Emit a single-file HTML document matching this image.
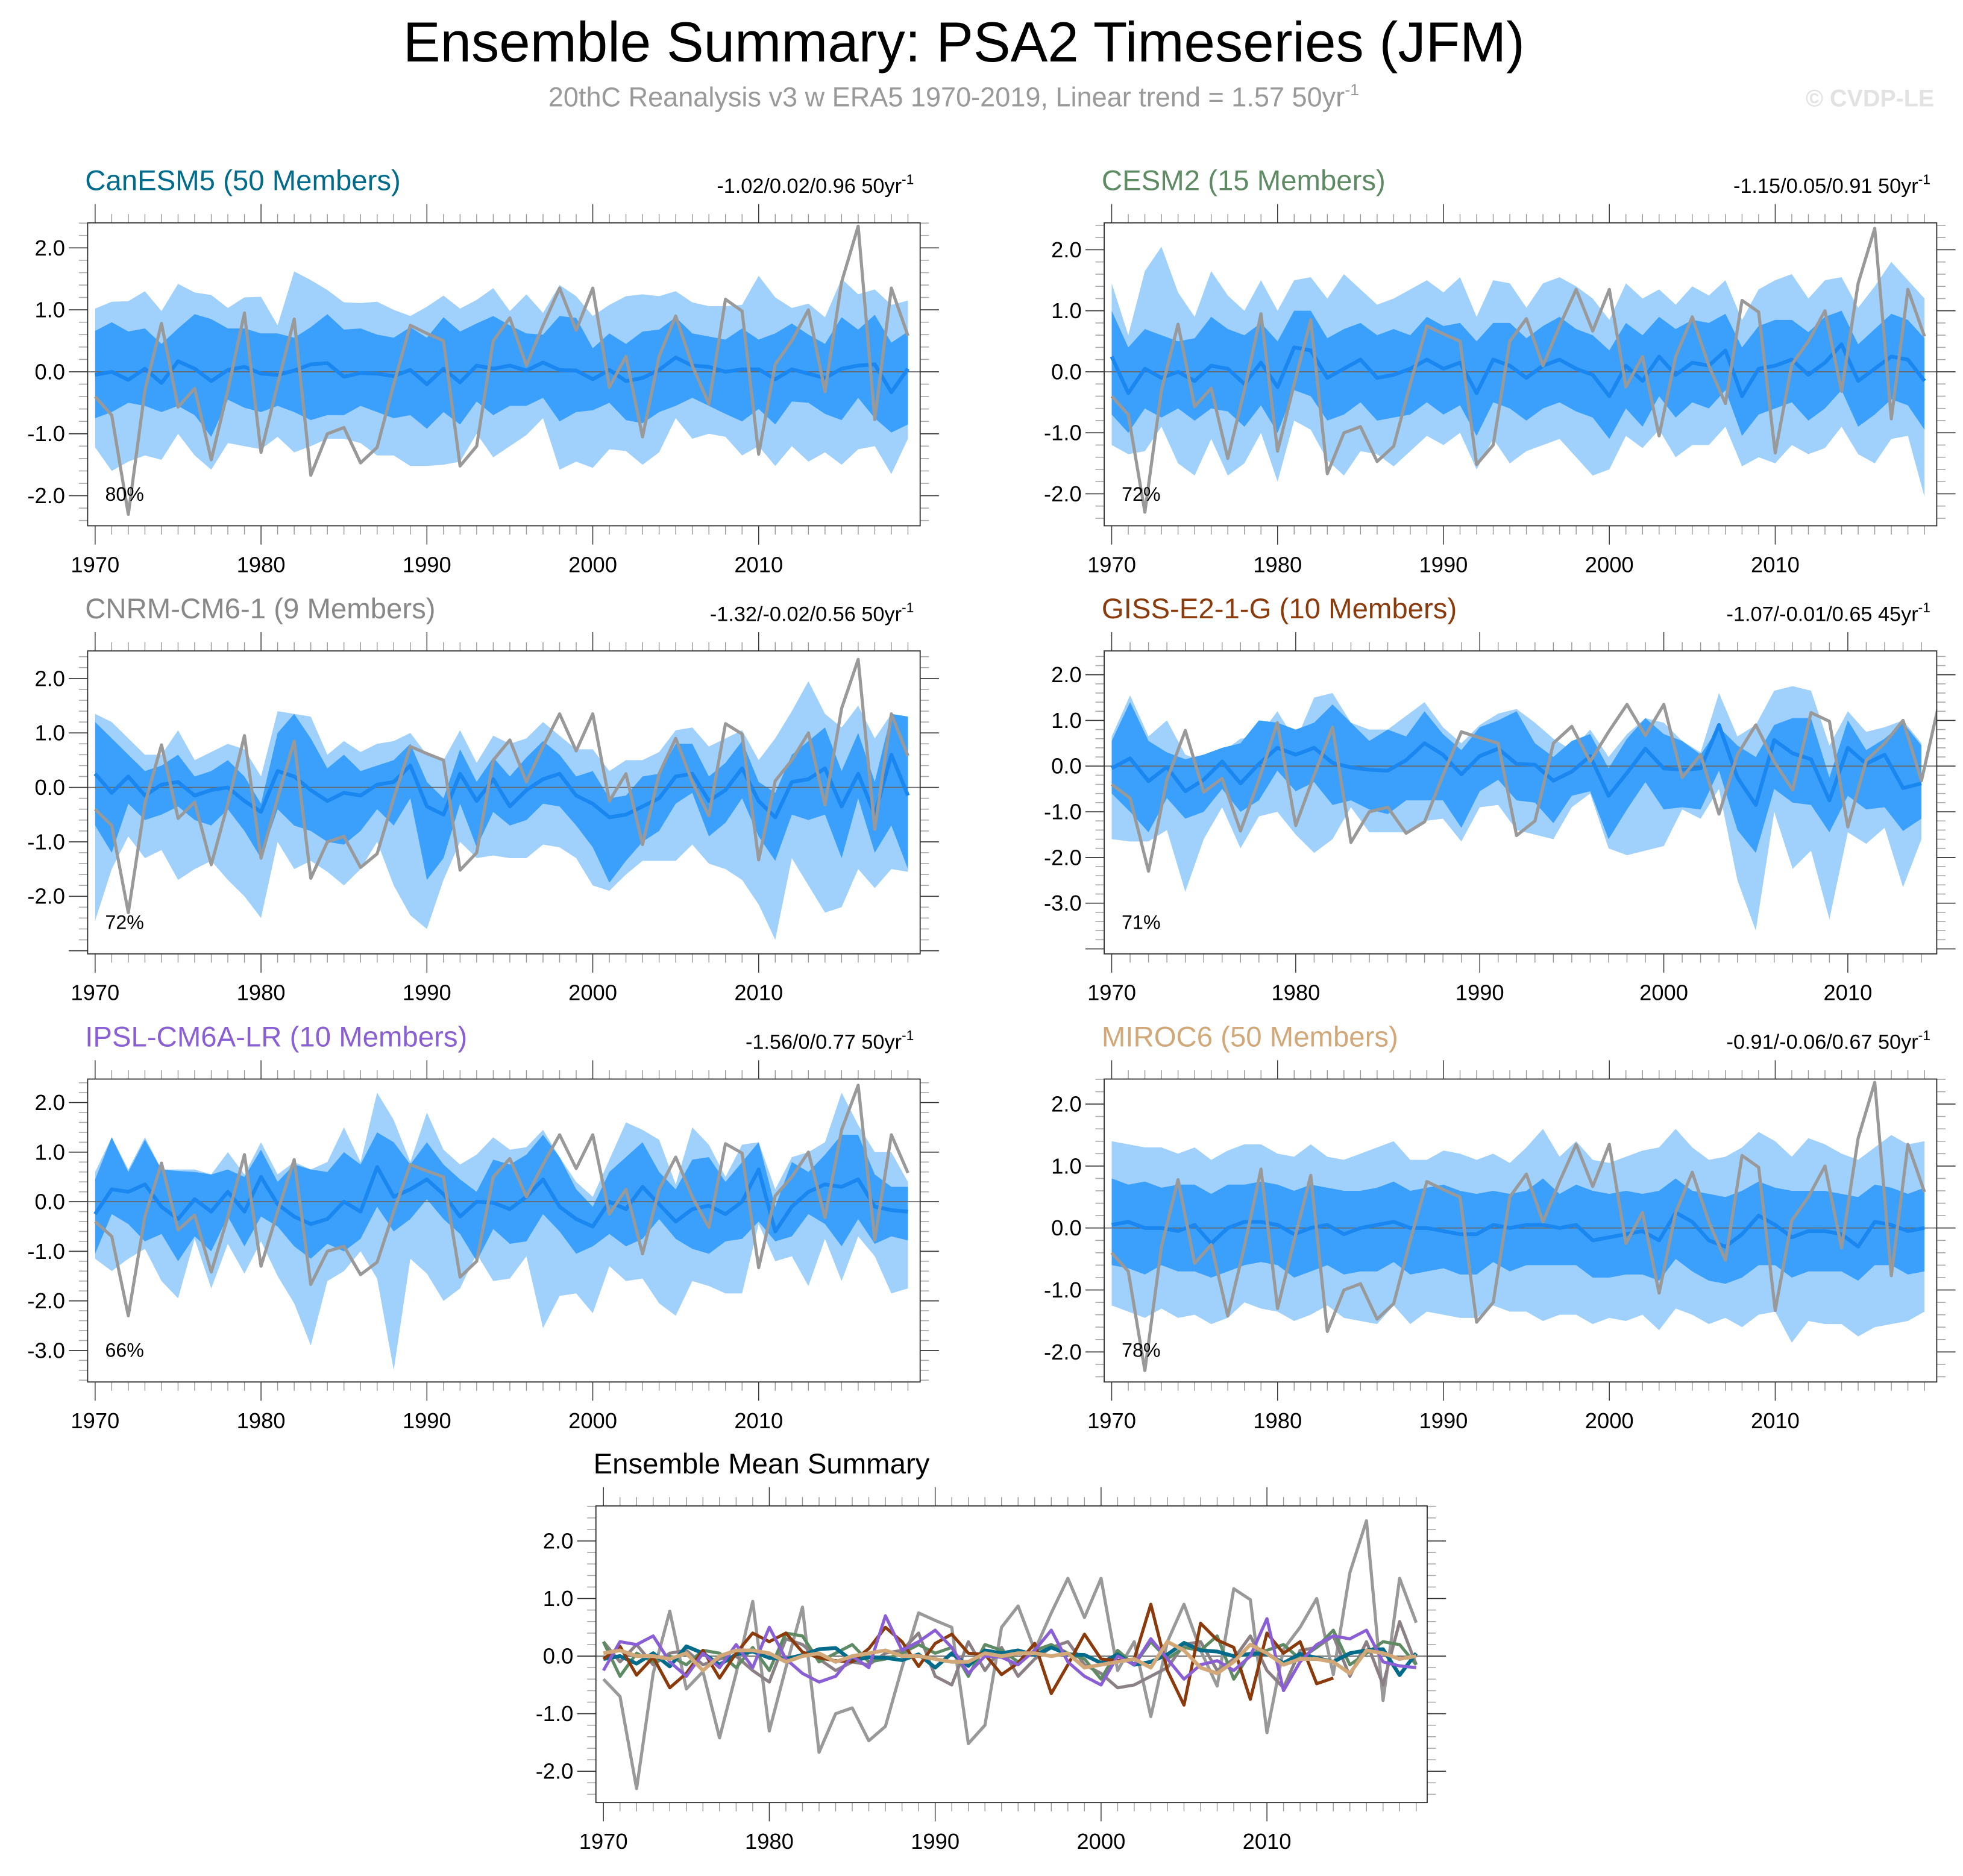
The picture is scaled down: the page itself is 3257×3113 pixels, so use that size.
<!DOCTYPE html>
<html><head><meta charset="utf-8"><style>
html,body{margin:0;padding:0;background:#fff;}
svg{display:block;font-family:"Liberation Sans",sans-serif;}
</style></head><body>
<svg id="fig" width="3257" height="3113" viewBox="0 0 1568 1498.65" xmlns="http://www.w3.org/2000/svg">
<text x="770" y="49" font-size="45" text-anchor="middle" textLength="896" lengthAdjust="spacingAndGlyphs">Ensemble Summary: PSA2 Timeseries (JFM)</text>
<text x="438" y="85" font-size="21.7" fill="#999">20thC Reanalysis v3 w ERA5 1970-2019, Linear trend = 1.57 50yr<tspan font-size="13" dy="-9">-1</tspan></text>
<text x="1545" y="85" font-size="19" font-weight="bold" fill="#e2e2e2" text-anchor="end">© CVDP-LE</text>
<g id="panels"></g>
</svg>
<script>
const years = [];
for (let y = 1970; y <= 2019; y++) years.push(y);
const obs = [-0.4,-0.7,-2.3,-0.3,0.78,-0.57,-0.27,-1.42,-0.3,0.95,-1.3,-0.2,0.85,-1.67,-1.0,-0.9,-1.47,-1.22,-0.2,0.75,0.62,0.5,-1.52,-1.2,0.5,0.87,0.1,0.75,1.35,0.67,1.35,-0.25,0.25,-1.05,0.25,0.9,0.1,-0.52,1.17,0.98,-1.33,0.12,0.5,1.0,-0.32,1.45,2.35,-0.77,1.35,0.58];

const canMean = [-0.05,0,-0.13,0.05,-0.18,0.17,0.05,-0.15,0.03,0.08,-0.03,-0.05,0.02,0.12,0.14,-0.08,-0.02,-0.03,-0.07,0.03,-0.2,0.05,-0.17,0.1,0.05,0.1,0.02,0.15,0.03,0.02,-0.12,0.03,-0.15,-0.1,0.03,0.23,0.1,0.08,0.0,0.04,0.04,-0.12,0.04,-0.03,-0.1,0.05,0.1,0.12,-0.33,0.05];
const canInHi = [0.66,0.8,0.65,0.7,0.45,0.7,0.93,0.85,0.7,0.7,0.62,0.62,0.55,0.72,0.93,0.68,0.7,0.6,0.55,0.72,0.55,0.88,0.65,0.78,0.9,0.75,0.62,0.6,0.9,0.87,0.38,0.62,0.45,0.65,0.68,0.88,0.62,0.57,0.52,0.7,0.52,0.62,0.78,0.6,0.45,0.88,0.68,0.92,0.47,0.65];
const canInLo = [-0.75,-0.65,-0.5,-0.55,-0.65,-0.55,-0.7,-1.05,-0.45,-0.58,-0.65,-0.55,-0.65,-0.78,-0.7,-0.7,-0.55,-0.65,-0.75,-0.7,-0.92,-0.65,-0.85,-0.48,-0.7,-0.55,-0.55,-0.42,-0.8,-0.65,-0.62,-0.5,-0.78,-0.83,-0.65,-0.55,-0.42,-0.55,-0.68,-0.8,-0.6,-0.85,-0.48,-0.5,-0.68,-0.78,-0.42,-0.75,-0.98,-0.85];
const canOutHi = [1.02,1.13,1.14,1.3,0.98,1.42,1.28,1.24,1.03,1.2,1.21,0.75,1.62,1.48,1.32,1.12,1.11,1.13,1.0,0.9,1.05,1.23,1.02,1.16,1.35,0.98,1.25,0.95,1.4,1.22,0.9,1.08,1.22,1.25,1.22,1.3,1.12,1.06,1.06,1.08,1.55,1.2,1.03,1.1,0.88,1.5,1.25,1.33,1.08,1.15];
const canOutLo = [-1.22,-1.6,-1.45,-1.35,-1.42,-1.0,-1.35,-1.58,-1.15,-1.2,-1.25,-1.05,-1.3,-1.2,-1.08,-1.08,-1.15,-1.35,-1.35,-1.52,-1.52,-1.5,-1.45,-1.0,-1.38,-1.2,-1.02,-0.75,-1.58,-1.45,-1.55,-1.25,-1.28,-1.5,-1.3,-0.75,-1.08,-1.0,-1.05,-1.35,-1.2,-1.52,-1.2,-1.45,-1.3,-1.5,-1.25,-1.2,-1.65,-1.08];

const cesMean = [0.25,-0.35,0.05,-0.1,0.0,-0.15,0.1,0.05,-0.2,0.15,-0.25,0.4,0.35,-0.1,0.05,0.2,-0.1,-0.05,0.05,0.2,0.05,0.15,-0.35,0.2,0.1,-0.1,0.1,0.2,0.05,-0.05,-0.4,0.1,-0.15,0.25,-0.05,0.15,0.1,0.35,-0.4,0.05,0.1,0.2,-0.05,0.15,0.45,-0.15,0.05,0.25,0.2,-0.15];
const cesInHi = [1.0,0.4,0.7,0.6,0.5,0.55,0.9,0.7,0.6,0.8,0.5,1.0,1.0,0.55,0.7,0.8,0.6,0.7,0.6,0.9,0.75,0.8,0.5,0.8,0.8,0.55,0.75,0.9,0.7,0.6,0.35,0.8,0.6,0.9,0.7,0.85,0.8,0.95,0.4,0.75,0.85,0.85,0.65,0.9,1.0,0.45,0.7,0.95,0.85,0.55];
const cesInLo = [-0.7,-1.0,-0.6,-0.75,-0.6,-0.8,-0.6,-0.65,-0.9,-0.55,-1.0,-0.3,-0.4,-0.8,-0.7,-0.5,-0.8,-0.75,-0.7,-0.5,-0.7,-0.55,-1.05,-0.5,-0.6,-0.8,-0.6,-0.5,-0.65,-0.75,-1.1,-0.6,-0.9,-0.4,-0.75,-0.5,-0.6,-0.3,-1.05,-0.7,-0.6,-0.5,-0.8,-0.6,-0.3,-0.9,-0.7,-0.45,-0.55,-0.95];
const cesOutHi = [1.45,0.6,1.65,2.05,1.3,0.9,1.65,1.25,1.0,1.5,1.0,1.5,1.55,1.2,1.6,1.35,1.1,1.2,1.35,1.5,1.3,1.55,0.9,1.5,1.45,1.05,1.45,1.55,1.4,1.2,0.85,1.45,1.2,1.35,1.1,1.4,1.25,1.5,0.85,1.35,1.5,1.6,1.2,1.5,1.55,1.05,1.4,1.8,1.5,1.2];
const cesOutLo = [-1.2,-1.35,-1.3,-0.9,-1.5,-1.7,-1.1,-1.7,-1.5,-1.0,-1.8,-0.8,-0.95,-1.45,-1.7,-1.3,-1.35,-1.55,-1.3,-1.05,-1.2,-1.0,-1.6,-1.1,-1.5,-1.3,-1.2,-1.1,-1.4,-1.7,-1.6,-1.05,-1.25,-0.95,-1.4,-1.2,-1.2,-0.9,-1.55,-1.4,-1.5,-1.2,-1.35,-1.25,-0.9,-1.35,-1.5,-1.1,-1.05,-2.05];

const cnrMean = [0.25,-0.1,0.2,-0.15,0.05,0.1,-0.15,-0.05,0.0,-0.25,-0.45,0.3,0.2,-0.05,-0.25,-0.1,-0.15,0.05,0.1,0.4,-0.35,-0.5,0.25,-0.25,0.15,-0.35,-0.05,0.15,0.25,-0.15,-0.3,-0.55,-0.5,-0.35,-0.2,0.2,0.25,-0.25,-0.05,0.35,-0.25,-0.55,0.1,0.15,0.35,-0.35,0.25,-0.5,0.6,-0.15];
const cnrInHi = [1.2,0.9,0.6,0.3,0.4,0.6,0.2,0.3,0.5,0.2,-0.3,1.0,1.35,0.9,0.35,0.6,0.3,0.4,0.5,0.8,0.1,-0.2,0.7,0.1,0.55,0.2,0.55,0.85,0.6,0.2,0.3,-0.2,-0.15,0.2,0.25,0.8,0.8,0.2,0.45,0.85,0.1,-0.1,0.6,0.85,1.1,0.3,1.0,0.1,1.35,1.3];
const cnrInLo = [-0.7,-1.2,-0.3,-0.6,-0.5,-0.35,-0.6,-0.7,-0.4,-0.8,-1.3,-0.4,-0.7,-0.8,-1.0,-1.05,-0.8,-0.4,-0.7,-0.2,-1.7,-1.3,-0.3,-1.1,-0.45,-0.7,-0.6,-0.3,-0.35,-0.7,-1.1,-1.75,-1.35,-1.0,-0.8,-0.3,-0.1,-0.9,-0.65,-0.2,-0.9,-1.35,-0.5,-0.6,-0.5,-1.3,-0.2,-1.2,-0.7,-1.5];
const cnrOutHi = [1.35,1.2,0.9,0.6,0.6,1.05,0.5,0.65,0.8,0.7,0.2,1.4,1.35,1.3,0.6,0.85,0.65,0.8,0.85,1.0,0.6,0.5,1.05,0.45,0.95,0.8,0.9,1.2,0.95,0.7,0.7,0.3,0.5,0.5,0.65,1.05,1.1,0.75,0.9,1.05,0.5,0.9,1.4,1.95,1.35,1.1,1.5,0.9,1.35,1.3];
const cnrOutLo = [-2.45,-1.5,-0.9,-1.3,-1.15,-1.7,-1.5,-1.35,-1.7,-2.0,-2.4,-1.0,-1.5,-1.35,-1.55,-1.8,-1.5,-1.0,-1.8,-2.35,-2.6,-1.7,-1.0,-1.3,-1.25,-1.3,-1.3,-1.05,-1.1,-1.3,-1.8,-1.9,-1.6,-1.35,-1.35,-1.35,-1.05,-1.4,-1.5,-1.7,-2.15,-2.8,-1.3,-1.8,-2.3,-2.2,-1.5,-1.85,-1.5,-1.55];

const gisMean = [-0.05,0.17,-0.33,-0.02,-0.55,-0.3,0.1,-0.38,0.05,0.4,0.25,0.4,0.07,-0.03,-0.08,-0.1,0.13,0.5,0.25,-0.18,0.22,0.38,0.05,0.03,-0.32,-0.12,0.22,-0.65,-0.15,0.38,-0.05,-0.08,-0.05,0.9,-0.25,-0.85,0.57,0.28,0.15,-0.75,0.4,0.05,0.25,-0.48,-0.38];
const gisInHi = [0.55,1.4,0.55,0.3,0.15,0.25,0.4,0.5,1.0,0.95,0.8,0.95,1.35,0.95,0.55,0.8,0.65,1.2,0.7,0.35,0.85,1.0,1.2,0.5,0.2,0.55,0.7,-0.05,0.6,1.05,0.7,0.55,0.25,0.85,0.45,0.2,0.9,1.05,1.05,-0.25,1.0,0.35,0.6,0.95,0.45];
const gisInLo = [-0.6,-1.0,-1.45,-0.7,-1.15,-1.0,-0.5,-1.0,-0.75,-0.1,-0.55,-0.35,-0.85,-0.75,-0.95,-1.05,-0.75,-0.75,-0.75,-1.35,-0.55,-0.3,-0.75,-0.8,-1.25,-0.65,-0.55,-1.6,-0.95,-0.35,-0.95,-0.9,-0.95,-0.1,-1.4,-1.9,-0.5,-0.8,-0.85,-1.45,-0.65,-0.95,-0.9,-1.42,-1.15];
const gisOutHi = [0.65,1.55,0.65,1.0,0.25,0.1,0.3,0.6,0.65,1.2,0.55,1.5,1.6,0.95,0.8,0.8,1.1,1.4,0.85,0.5,0.9,1.15,1.25,0.95,0.6,0.35,0.8,0.2,0.7,1.05,0.95,0.55,0.3,1.6,0.65,0.9,1.65,1.75,1.65,0.45,1.2,0.75,0.85,1.0,0.5];
const gisOutLo = [-1.6,-1.65,-1.65,-1.4,-2.75,-1.6,-0.9,-1.8,-1.1,-1.0,-1.5,-1.9,-1.6,-0.9,-1.45,-1.45,-1.45,-1.2,-1.15,-1.65,-0.9,-0.85,-1.4,-1.5,-1.6,-0.9,-0.6,-1.8,-1.95,-1.85,-1.75,-0.95,-1.15,-0.5,-2.5,-3.6,-1.0,-2.25,-1.85,-3.35,-1.45,-1.7,-1.35,-2.65,-1.6];

const ipsMean = [-0.25,0.25,0.2,0.35,-0.1,-0.35,0.05,-0.2,0.2,-0.2,0.5,-0.05,-0.3,-0.45,-0.35,0.0,-0.2,0.7,0.1,0.25,0.45,0.15,-0.3,0.0,-0.02,-0.15,0.1,0.45,-0.1,-0.35,-0.5,0.0,-0.15,0.3,-0.05,-0.4,-0.15,-0.08,-0.25,0.0,0.65,-0.6,-0.1,0.2,0.35,0.3,0.45,-0.1,-0.17,-0.2];
const ipsInHi = [0.45,1.3,0.6,1.25,0.65,0.62,0.6,0.55,0.65,0.5,1.05,0.4,0.75,0.65,0.6,1.0,0.75,1.4,1.2,0.75,1.2,0.75,0.45,0.2,0.85,0.75,0.95,1.35,0.9,0.25,-0.1,0.6,0.9,1.2,0.6,0.25,0.85,0.9,0.4,0.8,1.2,-0.1,0.8,0.6,0.95,1.35,1.35,0.55,0.3,0.3];
const ipsInLo = [-1.05,-0.25,-0.45,-0.8,-0.65,-1.2,-0.7,-1.0,-0.3,-0.9,-0.3,-0.5,-0.9,-1.15,-0.85,-1.0,-0.75,-0.1,-0.6,-0.35,0.05,-0.35,-0.65,-1.2,-0.55,-0.85,-0.8,-0.25,-0.6,-1.05,-0.9,-0.65,-0.9,-0.75,-0.35,-0.75,-0.95,-1.05,-0.8,-0.75,-0.4,-0.8,-0.7,-0.25,-0.45,-0.9,-0.35,-0.85,-0.7,-0.78];
const ipsOutHi = [0.6,1.3,0.65,1.3,0.65,0.65,0.65,0.55,1.0,0.55,1.2,0.55,0.8,0.65,0.8,1.5,0.8,2.2,1.65,0.8,1.8,1.05,0.75,0.95,1.3,1.05,1.1,1.45,0.9,0.4,0.1,0.85,1.6,1.45,1.25,0.35,1.5,1.15,0.5,1.15,1.2,0.25,0.9,1.0,1.2,2.2,1.55,1.0,1.0,0.4];
const ipsOutLo = [-1.15,-1.4,-1.15,-0.95,-1.6,-1.95,-0.75,-1.75,-0.85,-1.45,-0.8,-1.5,-2.05,-2.9,-1.6,-1.4,-1.0,-1.55,-3.4,-1.15,-1.45,-2.0,-1.75,-1.05,-1.6,-1.55,-1.1,-2.55,-1.9,-1.85,-2.25,-1.3,-1.6,-1.55,-2.05,-2.3,-1.6,-1.7,-1.85,-1.85,-0.45,-1.2,-1.1,-1.7,-0.75,-1.6,-0.7,-1.1,-1.85,-1.75];

const mirMean = [0.05,0.1,0.0,0.0,-0.05,0.05,-0.25,0.0,0.1,0.1,0.05,-0.1,0.0,0.05,-0.1,0.0,0.05,0.1,0.0,0.0,-0.05,-0.1,-0.1,0.05,0.0,0.05,0.05,0.0,0.05,-0.2,-0.15,-0.1,-0.05,-0.2,0.25,0.1,-0.2,-0.3,-0.1,0.2,0.05,-0.15,-0.05,-0.05,-0.1,-0.3,0.1,0.05,-0.05,0.0];
const mirInHi = [0.8,0.7,0.75,0.65,0.7,0.7,0.55,0.7,0.7,0.75,0.7,0.6,0.7,0.65,0.6,0.6,0.65,0.75,0.6,0.65,0.7,0.6,0.55,0.6,0.55,0.6,0.8,0.55,0.7,0.6,0.55,0.6,0.55,0.6,0.8,0.6,0.55,0.5,0.6,0.75,0.65,0.6,0.6,0.6,0.55,0.5,0.7,0.65,0.55,0.65];
const mirInLo = [-0.6,-0.65,-0.75,-0.6,-0.7,-0.7,-0.8,-0.7,-0.6,-0.55,-0.6,-0.8,-0.7,-0.6,-0.75,-0.7,-0.7,-0.55,-0.75,-0.7,-0.65,-0.75,-0.75,-0.55,-0.7,-0.6,-0.6,-0.6,-0.6,-0.8,-0.8,-0.75,-0.75,-0.85,-0.5,-0.7,-0.85,-0.9,-0.8,-0.6,-0.6,-0.8,-0.7,-0.7,-0.7,-0.85,-0.6,-0.6,-0.75,-0.7];
const mirOutHi = [1.4,1.35,1.3,1.3,1.2,1.3,1.1,1.25,1.35,1.35,1.2,1.15,1.35,1.15,1.1,1.2,1.3,1.4,1.1,1.1,1.25,1.2,1.1,1.2,1.05,1.3,1.6,1.15,1.4,1.1,1.05,1.15,1.25,1.3,1.6,1.3,1.1,1.15,1.3,1.55,1.4,1.15,1.45,1.35,1.2,1.1,1.3,1.5,1.35,1.4];
const mirOutLo = [-1.25,-1.35,-1.45,-1.3,-1.45,-1.4,-1.55,-1.45,-1.2,-1.3,-1.35,-1.5,-1.4,-1.25,-1.45,-1.5,-1.55,-1.25,-1.55,-1.35,-1.4,-1.45,-1.45,-1.25,-1.35,-1.35,-1.5,-1.4,-1.4,-1.55,-1.45,-1.5,-1.4,-1.65,-1.3,-1.4,-1.55,-1.45,-1.6,-1.4,-1.35,-1.85,-1.5,-1.55,-1.55,-1.75,-1.6,-1.55,-1.5,-1.35];

const yTickLabels = ["2.0","1.0","0.0","-1.0","-2.0","-3.0"];
const xTickLabels = ["1970","1980","1990","2000","2010"];

const NS = "http://www.w3.org/2000/svg";
const root = document.getElementById("panels");
function mk(tag, attrs, parent) {
  const e = document.createElementNS(NS, tag);
  for (const k in attrs) e.setAttribute(k, attrs[k]);
  (parent || root).appendChild(e);
  return e;
}
let clipId = 0;
function drawPanel(p) {
  const g = mk("g", {});
  
  
  const X = yr => p.x1970 + (yr - 1970) * p.pxYr;
  const Y = v => p.y0v - v * p.pxU;
  const yearsN = years.slice(0, p.nYears);
  for (let yr = 1970; yr <= 1970 + p.nYears - 1; yr++) {
    const major = yr % 10 === 0;
    const len = major ? 15 : 7;
    const t1 = mk("line", {x1: X(yr), x2: X(yr), y1: p.by1, y2: p.by1 + len, stroke: major ? "#333" : "#999", "stroke-width": 0.7}, g);
    
    
    const t2 = mk("line", {x1: X(yr), x2: X(yr), y1: p.by0, y2: p.by0 - len, stroke: major ? "#333" : "#999", "stroke-width": 0.7}, g);
    
    
  }
  xTickLabels.forEach(lbl => {
    const yr = +lbl;
    if (yr > 1970 + p.nYears - 1) return;
    const t = mk("text", {x: X(yr), y: p.by1 + 37, "font-size": 17.5, "text-anchor": "middle"}, g);
    t.textContent = lbl;
    
    
  });
  for (let k = Math.ceil((p.y0v - p.by1) / p.pxU * 5); k <= Math.floor((p.y0v - p.by0) / p.pxU * 5); k++) {
    const v = k / 5;
    const major = k % 5 === 0;
    const len = major ? 15 : 7;
    const t1 = mk("line", {x1: p.bx0, x2: p.bx0 - len, y1: Y(v), y2: Y(v), stroke: major ? "#333" : "#aaa", "stroke-width": 0.8}, g);
    
    
    const t2 = mk("line", {x1: p.bx1, x2: p.bx1 + len, y1: Y(v), y2: Y(v), stroke: major ? "#333" : "#aaa", "stroke-width": 0.8}, g);
    
    
  }
  yTickLabels.forEach(lbl => {
    const v = parseFloat(lbl);
    if (v < p.yMinLbl || v > 2) return;
    const t = mk("text", {x: p.bx0 - 18, y: Y(v) + 6, "font-size": 17.5, "text-anchor": "end"}, g);
    t.textContent = lbl;
    
    
  });
  const cid = "clip" + (clipId++);
  const cp = mk("clipPath", {id: cid}, g);
  mk("rect", {x: p.bx0, y: p.by0, width: p.bx1 - p.bx0, height: p.by1 - p.by0}, cp);
  const inner = mk("g", {"clip-path": "url(#" + cid + ")"}, g);
  const band = (hi, lo, fill, name) => {
    const pts = [];
    yearsN.forEach((yr, i) => pts.push(X(yr) + "," + Y(hi[i])));
    for (let i = yearsN.length - 1; i >= 0; i--) pts.push(X(yearsN[i]) + "," + Y(lo[i]));
    const e = mk("polygon", {points: pts.join(" "), fill: fill}, inner);
    
    
  };
  const line = (arr, stroke, w, name, n) => {
    const pts = arr.slice(0, n).map((v, i) => X(1970 + i) + "," + Y(v));
    const e = mk("polyline", {points: pts.join(" "), fill: "none", stroke: stroke, "stroke-width": w, "stroke-linejoin": "round"}, inner);
    
    
  };
  if (p.outHi) {
    band(p.outHi, p.outLo, "#a0d0fc", "outer-spread-band");
    band(p.inHi, p.inLo, "#3aa0fb", "inner-spread-band");
  }
  const z = mk("line", {x1: p.bx0, x2: p.bx1, y1: Y(0), y2: Y(0), stroke: "#666", "stroke-width": 0.8}, inner);
  
  
  if (p.mean) {
    line(p.mean, "#1a86f0", 3, "ensemble-mean-line", p.nYears);
    line(obs, "#999", 2.5, "observed-line", p.nYears + 1);
  }
  if (p.series) p.series.forEach(s => line(s.data, s.color, s.w, s.name, s.data.length));
  const box = mk("rect", {x: p.bx0, y: p.by0, width: p.bx1 - p.bx0, height: p.by1 - p.by0, fill: "none", stroke: "#333", "stroke-width": 0.9}, g);
  
  
  const tt = mk("text", {x: p.bx0 - 2, y: p.by0 - 26, "font-size": 22.8, fill: p.color}, g);
  tt.textContent = p.title;
  
  
  if (p.trend) {
    const tr = mk("text", {x: p.bx1 - 5, y: p.by0 - 24, "font-size": 16.5, "text-anchor": "end"}, g);
    tr.innerHTML = p.trend + '<tspan font-size="11" dy="-7">-1</tspan>';
    
    
    const pc = mk("text", {x: p.bx0 + 14, y: p.by1 - 20, "font-size": 15.5}, g);
    pc.textContent = p.pct;
    
    
  }
}
const L = {bx0: 70, bx1: 735, x1970: 76}, R = {bx0: 882, bx1: 1547, x1970: 888};
drawPanel(Object.assign({}, L, {name: "canesm5", title: "CanESM5 (50 Members)", color: "#006b8a", trend: "-1.02/0.02/0.96 50yr", pct: "80%", by0: 178, by1: 420, pxYr: 13.25, nYears: 50, y0v: 297, pxU: 49.5, yMinLbl: -2, mean: canMean, inHi: canInHi, inLo: canInLo, outHi: canOutHi, outLo: canOutLo}));
drawPanel(Object.assign({}, R, {name: "cesm2", title: "CESM2 (15 Members)", color: "#5e8a64", trend: "-1.15/0.05/0.91 50yr", pct: "72%", by0: 178, by1: 420, pxYr: 13.25, nYears: 50, y0v: 297, pxU: 48.75, yMinLbl: -2, mean: cesMean, inHi: cesInHi, inLo: cesInLo, outHi: cesOutHi, outLo: cesOutLo}));
drawPanel(Object.assign({}, L, {name: "cnrm-cm6-1", title: "CNRM-CM6-1 (9 Members)", color: "#888", trend: "-1.32/-0.02/0.56 50yr", pct: "72%", by0: 520, by1: 762, pxYr: 13.25, nYears: 50, y0v: 629, pxU: 43.5, yMinLbl: -2, mean: cnrMean, inHi: cnrInHi, inLo: cnrInLo, outHi: cnrOutHi, outLo: cnrOutLo}));
drawPanel(Object.assign({}, R, {name: "giss-e2-1-g", title: "GISS-E2-1-G (10 Members)", color: "#8b3a0b", trend: "-1.07/-0.01/0.65 45yr", pct: "71%", by0: 520, by1: 762, pxYr: 14.7, nYears: 45, y0v: 612, pxU: 36.5, yMinLbl: -3, mean: gisMean, inHi: gisInHi, inLo: gisInLo, outHi: gisOutHi, outLo: gisOutLo}));
drawPanel(Object.assign({}, L, {name: "ipsl-cm6a-lr", title: "IPSL-CM6A-LR (10 Members)", color: "#8a5fd5", trend: "-1.56/0/0.77 50yr", pct: "66%", by0: 862, by1: 1104, pxYr: 13.25, nYears: 50, y0v: 960, pxU: 39.6, yMinLbl: -3, mean: ipsMean, inHi: ipsInHi, inLo: ipsInLo, outHi: ipsOutHi, outLo: ipsOutLo}));
drawPanel(Object.assign({}, R, {name: "miroc6", title: "MIROC6 (50 Members)", color: "#d2a878", trend: "-0.91/-0.06/0.67 50yr", pct: "78%", by0: 862, by1: 1104, pxYr: 13.25, nYears: 50, y0v: 981, pxU: 49.5, yMinLbl: -2, mean: mirMean, inHi: mirInHi, inLo: mirInLo, outHi: mirOutHi, outLo: mirOutLo}));
drawPanel({name: "ensemble-mean-summary", title: "Ensemble Mean Summary", color: "#000", bx0: 476, bx1: 1140, x1970: 482, by0: 1203, by1: 1440, pxYr: 13.25, nYears: 50, y0v: 1323, pxU: 46, yMinLbl: -2,
  series: [
    {name: "obs-line", data: obs, color: "#999", w: 2.5},
    {name: "cnrm-mean-line", data: cnrMean, color: "#8a8086", w: 2.5},
    {name: "cesm2-mean-line", data: cesMean, color: "#5e8a64", w: 2.5},
    {name: "canesm5-mean-line", data: canMean, color: "#006b8a", w: 3},
    {name: "giss-mean-line", data: gisMean, color: "#8b3a0b", w: 2.5},
    {name: "ipsl-mean-line", data: ipsMean, color: "#8a5fd5", w: 2.5},
    {name: "miroc6-mean-line", data: mirMean, color: "#d2a878", w: 3}
  ]});
</script>
</body></html>
